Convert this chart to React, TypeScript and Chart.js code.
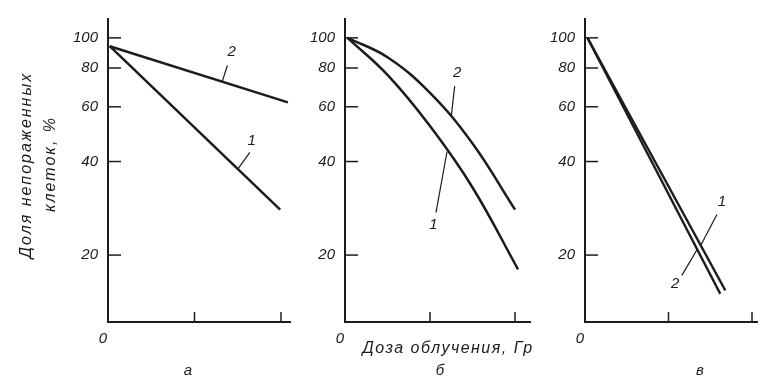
import React, { useEffect, useRef } from 'react';
import { Chart, registerables } from 'chart.js';

Chart.register(...registerables);

// ---- tick labels ----
const Y_TICKS = [20, 40, 60, 80, 100];
const X_TICKS = [0, 1, 2];

// ---- panel а (dose, Gy ; surviving fraction, %) ----
const aDose1 = [0.02, 1.99];
const aCurve1 = [94, 28];
const aDose2 = [0.02, 2.08];
const aCurve2 = [94, 62];

// ---- panel б ----
const bDose1 = [0.03, 0.5, 1.0, 1.5, 2.035];
const bCurve1 = [100, 76, 52, 33, 18];
const bDose2 = [0.03, 0.5, 1.0, 1.5, 2.0];
const bCurve2 = [100, 86.6, 66.5, 45.7, 28];

// ---- panel в ----
const vDose1 = [0.03, 1.68];
const vCurve1 = [100, 15.4];
const vDose2 = [0.03, 1.62];
const vCurve2 = [100, 15];

const Y_TITLE = ['Доля непораженных', 'клеток, %'];
const X_TITLE = 'Доза облучения, Гр';

const INK = '#1c1c1c';
const FONT = '"Liberation Sans", Arial, sans-serif';
const Y_MIN = 12.18;
const Y_MAX = 115;

type Note = { text: string; at: [number, number]; from: [number, number]; to: [number, number] };
type Panel = {
  axisX: number;
  endX: number;
  xMax: number;
  lineWidth: number;
  series: { x: number[]; y: number[] }[];
  smooth: boolean;
  notes: Note[];
  letter: { text: string; x: number; y: number };
  yTitle?: boolean;
  xTitle?: boolean;
};

const PANELS: Panel[] = [
  {
    axisX: 108, endX: 290, xMax: 2.104, lineWidth: 2.5, smooth: false,
    series: [{ x: aDose1, y: aCurve1 }, { x: aDose2, y: aCurve2 }],
    notes: [
      { text: '2', at: [1.43, 90.3], from: [1.38, 81.5], to: [1.32, 72.3] },
      { text: '1', at: [1.66, 46.7], from: [1.64, 42.8], to: [1.5, 37.8] },
    ],
    letter: { text: 'а', x: 188, y: 371 },
    yTitle: true,
  },
  {
    axisX: 345, endX: 530, xMax: 2.176, lineWidth: 2.5, smooth: true,
    series: [{ x: bDose1, y: bCurve1 }, { x: bDose2, y: bCurve2 }],
    notes: [
      { text: '2', at: [1.32, 76.9], from: [1.29, 69.9], to: [1.25, 56] },
      { text: '1', at: [1.04, 25.1], from: [1.07, 27.4], to: [1.2, 43] },
    ],
    letter: { text: 'б', x: 440, y: 371 },
    xTitle: true,
  },
  {
    axisX: 585, endX: 760, xMax: 2.06, lineWidth: 2.3, smooth: false,
    series: [{ x: vDose1, y: vCurve1 }, { x: vDose2, y: vCurve2 }],
    notes: [
      { text: '1', at: [1.64, 29.7], from: [1.58, 27.0], to: [1.39, 21.6] },
      { text: '2', at: [1.08, 16.2], from: [1.16, 17.2], to: [1.35, 21.0] },
    ],
    letter: { text: 'в', x: 700, y: 371 },
  },
];

function makeDecor(p: Panel) {
  return {
    id: 'decor',
    afterDraw(chart: any) {
      const ctx = chart.ctx as CanvasRenderingContext2D;
      const xs = chart.scales.x;
      const ys = chart.scales.y;
      const area = chart.chartArea;
      ctx.save();
      ctx.strokeStyle = INK;
      ctx.fillStyle = INK;
      ctx.lineWidth = 1.5;
      for (const t of Y_TICKS) {
        const py = ys.getPixelForValue(t);
        ctx.beginPath();
        ctx.moveTo(area.left, py);
        ctx.lineTo(area.left + 13, py);
        ctx.stroke();
      }
      for (const t of X_TICKS.slice(1)) {
        const px = xs.getPixelForValue(t);
        ctx.beginPath();
        ctx.moveTo(px, area.bottom);
        ctx.lineTo(px, area.bottom - 10);
        ctx.stroke();
      }
      ctx.font = `italic 15px ${FONT}`;
      ctx.textAlign = 'center';
      ctx.textBaseline = 'middle';
      ctx.lineWidth = 1.2;
      for (const n of p.notes) {
        ctx.fillText(n.text, xs.getPixelForValue(n.at[0]), ys.getPixelForValue(n.at[1]));
        ctx.beginPath();
        ctx.moveTo(xs.getPixelForValue(n.from[0]), ys.getPixelForValue(n.from[1]));
        ctx.lineTo(xs.getPixelForValue(n.to[0]), ys.getPixelForValue(n.to[1]));
        ctx.stroke();
      }
      ctx.font = `italic 15px ${FONT}`;
      ctx.fillText(p.letter.text, p.letter.x, p.letter.y);
      if (p.xTitle) {
        ctx.font = `italic 16px ${FONT}`;
        (ctx as any).letterSpacing = '1.5px';
        ctx.fillText(X_TITLE, 448, 349);
        (ctx as any).letterSpacing = '0px';
      }
      if (p.yTitle) {
        ctx.font = `italic 16px ${FONT}`;
        (ctx as any).letterSpacing = '2px';
        ctx.save();
        ctx.translate(27, 165);
        ctx.rotate(-Math.PI / 2);
        ctx.fillText(Y_TITLE[0], 0, 0);
        ctx.restore();
        ctx.save();
        ctx.translate(51, 164);
        ctx.rotate(-Math.PI / 2);
        ctx.fillText(Y_TITLE[1], 0, 0);
        ctx.restore();
        (ctx as any).letterSpacing = '0px';
      }
      ctx.restore();
    },
  };
}

const Y_W = 40;
const X_H = 30;

function buildChart(canvas: HTMLCanvasElement, p: Panel) {
  return new Chart(canvas, {
    type: 'line',
    data: {
      datasets: p.series.map((s) => ({
        data: s.x.map((xv, i) => ({ x: xv, y: s.y[i] })),
        borderColor: INK,
        borderWidth: p.lineWidth,
        pointRadius: 0,
        fill: false,
        tension: p.smooth ? 0.4 : 0,
      })) as any,
    },
    options: {
      responsive: false,
      animation: false,
      events: [],
      layout: {
        padding: { left: p.axisX - Y_W, right: 760 - p.endX, top: 15, bottom: 380 - 322 - X_H },
      },
      plugins: { legend: { display: false }, tooltip: { enabled: false } },
      scales: {
        x: {
          type: 'linear',
          min: 0,
          max: p.xMax,
          grid: { display: false, drawTicks: false },
          border: { display: true, color: INK, width: 2 },
          afterBuildTicks: (s: any) => { s.ticks = X_TICKS.map((v) => ({ value: v })); },
          afterFit: (s: any) => { s.height = X_H; },
          ticks: {
            autoSkip: false,
            maxRotation: 0,
            padding: 8,
            labelOffset: -5,
            color: INK,
            font: { family: FONT, size: 15, style: 'italic' },
            callback: (v: any) => (Number(v) === 0 ? '0' : ''),
          },
        },
        y: {
          type: 'logarithmic',
          min: Y_MIN,
          max: Y_MAX,
          grid: { display: false, drawTicks: false },
          border: { display: true, color: INK, width: 2 },
          afterBuildTicks: (s: any) => { s.ticks = Y_TICKS.map((v) => ({ value: v })); },
          afterFit: (s: any) => { s.width = Y_W; },
          ticks: {
            autoSkip: false,
            padding: 10,
            color: INK,
            font: { family: FONT, size: 15, style: 'italic' },
            callback: (v: any) => String(v),
          },
        },
      },
    } as any,
    plugins: [makeDecor(p)],
  });
}

export default function App() {
  const r0 = useRef<HTMLCanvasElement>(null);
  const r1 = useRef<HTMLCanvasElement>(null);
  const r2 = useRef<HTMLCanvasElement>(null);

  useEffect(() => {
    const refs = [r0, r1, r2];
    const charts = refs.map((r, i) => buildChart(r.current as HTMLCanvasElement, PANELS[i]));
    return () => charts.forEach((c) => c.destroy());
  }, []);

  const cs: React.CSSProperties = { position: 'absolute', left: 0, top: 0, width: 760, height: 380 };
  return (
    <div style={{ position: 'absolute', left: 0, top: 0, width: 760, height: 380, background: '#fff', overflow: 'hidden' }}>
      <canvas ref={r0} width={760} height={380} style={cs} />
      <canvas ref={r1} width={760} height={380} style={cs} />
      <canvas ref={r2} width={760} height={380} style={cs} />
    </div>
  );
}
